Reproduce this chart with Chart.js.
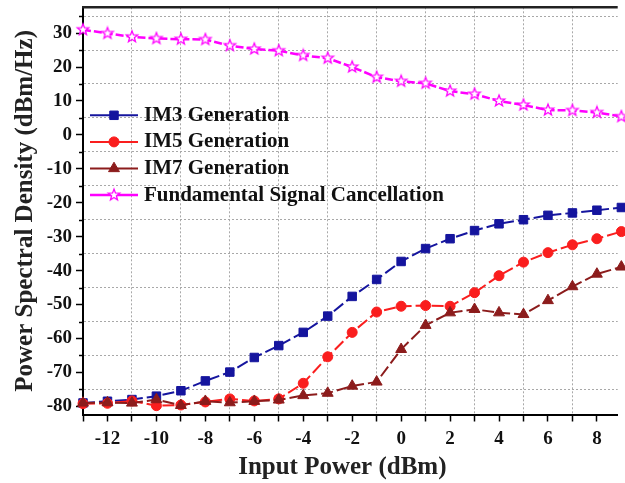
<!DOCTYPE html>
<html>
<head>
<meta charset="utf-8">
<title>PSD vs Input Power</title>
<script src="https://cdn.jsdelivr.net/npm/chart.js@4/dist/chart.umd.min.js"></script>
<style>
    html, body { margin: 0; padding: 0; background: #fff; }
    canvas { display: block; }
</style>
</head>
<body>
<canvas id="psdChart" width="625" height="483"></canvas>
<script>
// input power sweep (dBm)
var inputPower = [-13, -12, -11, -10, -9, -8, -7, -6, -5, -4, -3, -2, -1, 0, 1, 2, 3, 4, 5, 6, 7, 8, 9];

// measured PSD (dBm/Hz)
var im3Gen = [-79.0, -78.5, -78.0, -77.0, -75.4, -72.5, -69.9, -65.6, -62.1, -58.2, -53.4, -47.6, -42.6, -37.3, -33.5, -30.6, -28.2, -26.2, -25.0, -23.7, -23.0, -22.2, -21.4];
var im5Gen = [-79.2, -79.1, -78.4, -79.8, -79.6, -78.7, -77.8, -78.4, -77.8, -73.2, -65.4, -58.2, -52.2, -50.5, -50.3, -50.5, -46.5, -41.5, -37.5, -34.7, -32.4, -30.6, -28.5];
var im7Gen = [-79.0, -78.9, -79.0, -78.0, -79.7, -78.5, -78.9, -78.5, -78.1, -76.8, -76.1, -74.0, -72.8, -63.2, -56.1, -52.4, -51.4, -52.4, -52.9, -48.8, -44.7, -41.0, -38.9];
var fundCancel = [31.0, 29.9, 28.9, 28.4, 28.2, 28.1, 26.3, 25.3, 24.8, 23.4, 22.6, 20.0, 17.0, 15.8, 15.2, 12.9, 12.0, 10.0, 8.8, 7.3, 7.2, 6.6, 5.4];

var seriesNames = ['IM3 Generation', 'IM5 Generation', 'IM7 Generation', 'Fundamental Signal Cancellation'];

// tick values
var xTicks = [-13, -12, -11, -10, -9, -8, -7, -6, -5, -4, -3, -2, -1, 0, 1, 2, 3, 4, 5, 6, 7, 8];
var yTicks = [-80, -75, -70, -65, -60, -55, -50, -45, -40, -35, -30, -25, -20, -15, -10, -5, 0, 5, 10, 15, 20, 25, 30, 35];

var serif = "'Liberation Serif', 'Times New Roman', serif";
Chart.defaults.font.family = serif;
Chart.defaults.font.weight = 'bold';
Chart.defaults.color = '#111';

// hollow five-point star used as marker
const makeStar = (r, color) => {
    let c = document.createElement('canvas');
    c.width = c.height = Math.ceil(r * 2 + 4);
    let g = c.getContext('2d');
    let cx = c.width / 2, cy = c.height / 2;
    g.beginPath();
    for (let i = 0; i < 10; i++) {
        let rad = (i % 2 === 0) ? r : r * 0.42;
        let a = -Math.PI / 2 + i * Math.PI / 5;
        g.lineTo(cx + rad * Math.cos(a), cy + rad * Math.sin(a));
    }
    g.closePath();
    g.fillStyle = '#fff';
    g.fill();
    g.strokeStyle = color;
    g.lineWidth = 1.3;
    g.stroke();
    return c;
};
var starMark = makeStar(6, '#ff00ff');

const toPoints = (ys) => inputPower.map((x, i) => ({ x: x, y: ys[i] }));

const lineSet = (label, values, color, style, radius, dash, width, order) => ({
    label: label,
    data: toPoints(values),
    borderColor: color,
    backgroundColor: color,
    pointBackgroundColor: color,
    pointBorderColor: color,
    pointStyle: style,
    pointRadius: radius,
    pointBorderWidth: 1,
    borderWidth: width,
    borderDash: dash,
    tension: 0,
    clip: false,
    order: order,
});

// minor y ticks, top frame line, legend and x title
const frameExtras = {
    id: 'frameExtras',
    afterDraw(chart) {
        const { ctx, chartArea, scales } = chart;
        ctx.save();
        ctx.strokeStyle = '#000';
        ctx.lineWidth = 1.5;
        for (const v of yTicks) {
            if (v % 10 === 0) continue;
            let py = Math.round(scales.y.getPixelForValue(v)) + 0.5;
            ctx.beginPath();
            ctx.moveTo(chartArea.left - 4, py);
            ctx.lineTo(chartArea.left, py);
            ctx.stroke();
        }
        ctx.strokeStyle = '#222';
        ctx.lineWidth = 2.5;
        ctx.beginPath();
        ctx.moveTo(chartArea.left - 1, chartArea.top);
        ctx.lineTo(chartArea.right, chartArea.top);
        ctx.stroke();

        // legend
        let lx = chartArea.left + 7, ly = chartArea.top + 108;
        chart.data.datasets.forEach((ds, i) => {
            let y = ly + i * 26.6;
            ctx.save();
            ctx.setLineDash([]);
            ctx.strokeStyle = ds.borderColor;
            ctx.lineWidth = ds.borderWidth;
            ctx.beginPath();
            ctx.moveTo(lx, y);
            ctx.lineTo(lx + 48, y);
            ctx.stroke();
            ctx.fillStyle = ds.pointBackgroundColor;
            ctx.strokeStyle = ds.pointBorderColor;
            ctx.lineWidth = 1;
            Chart.helpers.drawPoint(ctx, { pointStyle: ds.pointStyle, radius: ds.pointRadius, rotation: 0, borderWidth: 1 }, lx + 24, y);
            ctx.fillStyle = '#111';
            ctx.font = 'bold 21px ' + serif;
            ctx.textBaseline = 'middle';
            ctx.textAlign = 'left';
            ctx.fillText(ds.label, lx + 54, y);
            ctx.restore();
        });

        // x axis title
        ctx.fillStyle = '#222';
        ctx.font = 'bold 25px ' + serif;
        ctx.textAlign = 'center';
        ctx.textBaseline = 'middle';
        ctx.fillText('Input Power (dBm)', (chartArea.left + chartArea.right) / 2 - 8, 468);
        ctx.restore();
    }
};

var psdConfig = {
    type: 'line',
    data: {
        datasets: [
            lineSet(seriesNames[0], im3Gen, '#15159e', 'rect', 6, [12, 4], 2, 3),
            lineSet(seriesNames[1], im5Gen, '#fa1e1e', 'circle', 5, [12, 4], 2, 2),
            lineSet(seriesNames[2], im7Gen, '#8c1c1c', 'triangle', 6.3, [12, 4], 2, 1),
            lineSet(seriesNames[3], fundCancel, '#ff00ff', starMark, 6, [8, 3], 2.5, 0),
        ],
    },
    options: {
        responsive: false,
        animation: false,
        layout: { padding: { top: 5, right: 0, bottom: 0, left: 0 } },
        plugins: {
            legend: { display: false },
            tooltip: { enabled: false },
        },
        scales: {
            x: {
                type: 'linear',
                min: -13,
                max: 8.85,
                afterBuildTicks: (scale) => { scale.ticks = xTicks.map(v => ({ value: v })); },
                afterFit: (scale) => { scale.height = 68.5; scale.paddingLeft = 0; scale.paddingRight = 0; },
                ticks: {
                    font: { size: 19, weight: 'bold' },
                    color: '#111',
                    padding: 6,
                    maxRotation: 0,
                    autoSkip: false,
                    callback: (v) => (v % 2 === 0 ? String(v) : ''),
                },
                grid: {
                    color: (c) => (c.tick && Math.abs(c.tick.value % 2) === 1 && c.tick.value !== -13 ? '#a8a8a8' : 'transparent'),
                    lineWidth: 1,
                    tickLength: 7,
                    tickColor: '#000',
                    tickWidth: 1.5,
                },
                border: { display: true, color: '#000', width: 2, dash: [2, 2] },
            },
            y: {
                min: -82.4,
                max: 37.6,
                afterBuildTicks: (scale) => { scale.ticks = yTicks.map(v => ({ value: v })); },
                afterFit: (scale) => { scale.width = 83; scale.paddingTop = 0; scale.paddingBottom = 0; },
                ticks: {
                    font: { size: 19, weight: 'bold' },
                    color: '#111',
                    padding: 4,
                    autoSkip: false,
                    callback: (v) => (v % 10 === 0 ? String(v) : ''),
                },
                grid: {
                    color: (c) => (c.tick && c.tick.value % 10 !== 0 ? '#a8a8a8' : 'transparent'),
                    lineWidth: 1,
                    tickLength: 7,
                    tickColor: (c) => (c.tick && c.tick.value % 10 === 0 ? '#000' : 'transparent'),
                    tickWidth: 1.5,
                },
                border: { display: true, color: '#000', width: 2, dash: [2, 2] },
                title: {
                    display: true,
                    text: 'Power Spectral Density (dBm/Hz)',
                    color: '#222',
                    font: { size: 25, weight: 'bold' },
                    padding: { top: 11, bottom: 0 },
                },
            },
        },
    },
    plugins: [frameExtras],
};

window.psdChart = new Chart(document.getElementById('psdChart'), psdConfig);
</script>
</body>
</html>
